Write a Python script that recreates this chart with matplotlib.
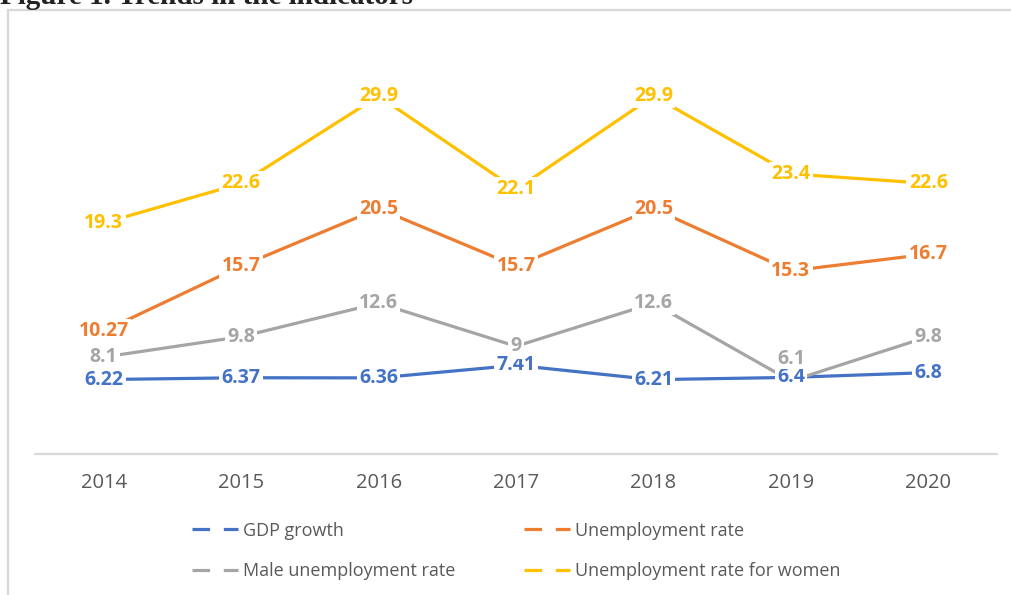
#coding: utf-8
import matplotlib
matplotlib.use('Agg')
import matplotlib.pyplot as plt
from matplotlib.lines import Line2D

years=['2014','2015','2016','2017','2018','2019','2020']
gdp=[6.22,6.37,6.36,7.41,6.21,6.4,6.8]
unemp=[10.27,15.7,20.5,15.7,20.5,15.3,16.7]
male=[8.1,9.8,12.6,9,12.6,6.1,9.8]
women=[19.3,22.6,29.9,22.1,29.9,23.4,22.6]

names=['GDP growth','Unemployment rate','Male unemployment rate','Unemployment rate for women']
cols=['#4472C4','#ED7D31','#A5A5A5','#FFC000']

W,H=1012,595

def px_x(x):
	return x/W

def px_y(y):
	return 1-y/H

def _label(ax,x,v,col,dy=0,pad=0.12):
	ax.annotate(str(v),(x,v),xytext=(0,dy),textcoords='offset pixels',
		ha='center',va='center',color=col,fontsize=14,fontweight='bold',
		family=['Open Sans','DejaVu Sans'],zorder=5,
		bbox=dict(boxstyle='square,pad=%s'%pad,fc='white',ec='none'))

def draw():
	fig=plt.figure(figsize=(W/100,H/100),dpi=100)
	fig.patch.set_facecolor('white')

	# outer frame, open at right and bottom
	fig.add_artist(Line2D([px_x(8),px_x(8)],[px_y(10),0],color='#D9D9D9',lw=1.6))
	fig.add_artist(Line2D([px_x(8),1],[px_y(10),px_y(10)],color='#D9D9D9',lw=1.6))

	fig.text(0.0,px_y(4),'Figure 1. Trends in the indicators',ha='left',va='baseline',
		fontsize=21,fontweight='bold',family='Liberation Serif',color='#222222')

	ax=fig.add_axes([px_x(35),px_y(454),px_x(997)-px_x(35),px_y(35)-px_y(454)])
	xs=list(range(len(years)))
	series=[gdp,unemp,male,women]
	for d,c in zip(series,cols):
		ax.plot(xs,d,color=c,lw=2.3,solid_capstyle='butt',zorder=2)

	for d,c in zip(series,cols):
		for x,v in zip(xs,d):
			if d is male and x==5:
				# sits just above the GDP label for 2019
				_label(ax,x,v,c,dy=22,pad=0.02)
			else:
				_label(ax,x,v,c)

	ax.set_xlim(-0.5,len(years)-0.5)
	ax.set_ylim(0,35)
	ax.set_xticks(xs)
	ax.set_xticklabels(years,fontsize=14.5,color='#595959',family='Open Sans')
	ax.set_yticks([])
	ax.tick_params(axis='x',length=0,pad=14)
	for s in ['top','right','left']:
		ax.spines[s].set_visible(False)
	ax.spines['bottom'].set_color('#D9D9D9')
	ax.spines['bottom'].set_linewidth(1.6)

	hs=[Line2D([0],[0],color=c,lw=2.3,linestyle=(0,(5.5,4.3))) for c in cols]
	lp=dict(frameon=False,loc='center left',handlelength=2.55,handletextpad=0.3,
		labelspacing=1.25,borderpad=0,borderaxespad=0,
		prop={'family':'Open Sans','size':13})
	l1=fig.legend([hs[0],hs[2]],[names[0],names[2]],bbox_to_anchor=(px_x(192),px_y(551)),**lp)
	l2=fig.legend([hs[1],hs[3]],[names[1],names[3]],bbox_to_anchor=(px_x(524),px_y(551)),**lp)
	for l in (l1,l2):
		for t in l.get_texts():
			t.set_color('#595959')

	fig.savefig('out.png',dpi=100,facecolor='white')
	plt.close(fig)

if __name__ == '__main__':
	draw()
